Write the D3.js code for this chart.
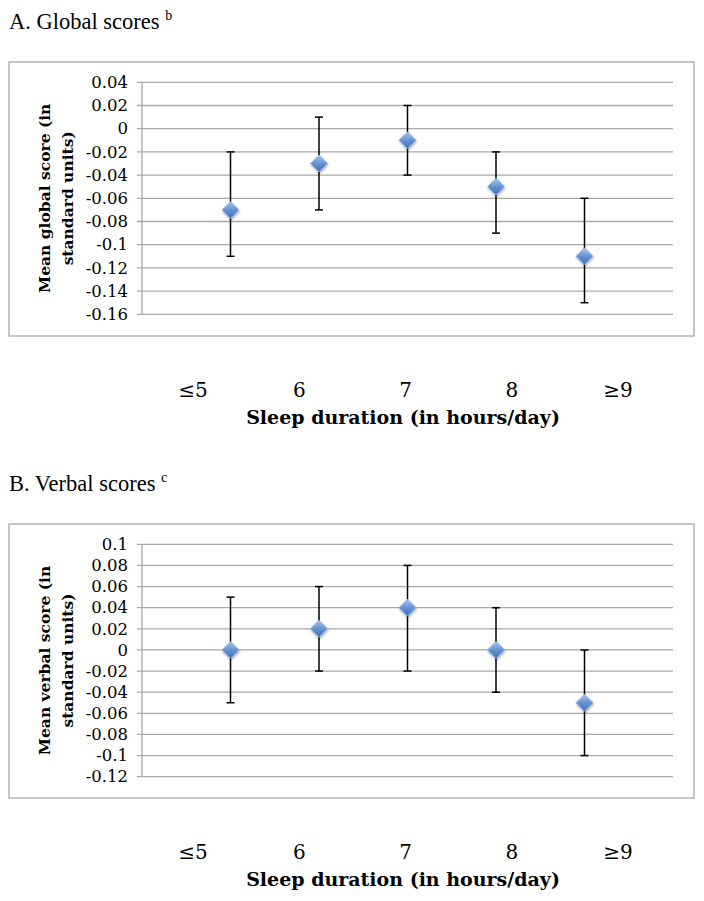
<!DOCTYPE html>
<html>
<head>
<meta charset="utf-8">
<script src="https://cdn.jsdelivr.net/npm/d3@7"></script>
<style>
  body { margin: 0; background: #fff; }
  svg { display: block; }
</style>
</head>
<body>
<svg id="chart" width="704" height="901"></svg>
<script>
// sleep duration categories
const categories = ['≤5', '6', '7', '8', '≥9'];

// A. global scores: mean and 95% CI
const globalMean = [-0.07, -0.03, -0.01, -0.05, -0.11];
const globalLow  = [-0.11, -0.07, -0.04, -0.09, -0.15];
const globalHigh = [-0.02, 0.01, 0.02, -0.02, -0.06];
const globalTicks = [0.04, 0.02, 0, -0.02, -0.04, -0.06, -0.08, -0.1, -0.12, -0.14, -0.16];

// B. verbal scores: mean and 95% CI
const verbalMean = [0, 0.02, 0.04, 0, -0.05];
const verbalLow  = [-0.05, -0.02, -0.02, -0.04, -0.1];
const verbalHigh = [0.05, 0.06, 0.08, 0.04, 0];
const verbalTicks = [0.1, 0.08, 0.06, 0.04, 0.02, 0, -0.02, -0.04, -0.06, -0.08, -0.1, -0.12];

const svg = d3.select('#chart');

// shared gradient + shadow for the diamond markers
const defs = svg.append('defs');
const grad = defs.append('linearGradient')
  .attr('id', 'diamondFill')
  .attr('x1', 0).attr('y1', 0).attr('x2', 0).attr('y2', 1);
grad.append('stop').attr('offset', '0%').attr('stop-color', '#a9c6ee');
grad.append('stop').attr('offset', '55%').attr('stop-color', '#5f8fd2');
grad.append('stop').attr('offset', '100%').attr('stop-color', '#3f70b8');
defs.append('filter')
  .attr('id', 'shadow')
  .attr('x', '-50%').attr('y', '-50%').attr('width', '200%').attr('height', '200%')
  .append('feDropShadow')
  .attr('dx', 0.5).attr('dy', 1.5)
  .attr('stdDeviation', 1.3)
  .attr('flood-color', '#000')
  .attr('flood-opacity', 0.35);

const fmt = v => String(+v.toFixed(2));

function drawPanel(opt) {
  const boxLeft = 9, boxRight = 694;
  const plotLeft = 142, plotRight = 673;

  // panel title
  const t = svg.append('text')
    .attr('x', 9)
    .attr('y', opt.boxTop - 33)
    .style('font-family', '"Liberation Serif", serif')
    .style('font-size', '22.5px')
    .attr('fill', '#000');
  t.append('tspan').text(opt.title + ' ');
  t.append('tspan')
    .attr('dy', -9)
    .style('font-size', '14px')
    .text(opt.sup);

  // outer chart border
  svg.append('rect')
    .attr('x', boxLeft)
    .attr('y', opt.boxTop)
    .attr('width', boxRight - boxLeft)
    .attr('height', opt.boxBottom - opt.boxTop)
    .attr('fill', '#fff')
    .attr('stroke', '#b4b4b4')
    .attr('stroke-width', 1.5);

  const x = d3.scalePoint()
    .domain(categories)
    .range([plotLeft, plotRight])
    .padding(1);

  const y = d3.scaleLinear()
    .domain(d3.extent(opt.ticks))
    .range([opt.plotBottom, opt.plotTop]);

  const g = svg.append('g');

  // horizontal gridlines + little ticks to the left of the axis
  g.selectAll('line.grid')
    .data(opt.ticks)
    .enter()
    .append('line')
    .attr('class', 'grid')
    .attr('x1', plotLeft - 5)
    .attr('x2', plotRight)
    .attr('y1', d => y(d))
    .attr('y2', d => y(d))
    .attr('stroke', '#a8a8a8')
    .attr('stroke-width', 1.3);

  // vertical axis line
  g.append('line')
    .attr('x1', plotLeft).attr('x2', plotLeft)
    .attr('y1', y(opt.ticks[0])).attr('y2', y(opt.ticks[opt.ticks.length - 1]))
    .attr('stroke', '#a8a8a8')
    .attr('stroke-width', 1.3);

  // y tick labels
  g.selectAll('text.ytick')
    .data(opt.ticks)
    .enter()
    .append('text')
    .attr('class', 'ytick')
    .attr('x', plotLeft - 14)
    .attr('y', d => y(d))
    .attr('dy', '0.35em')
    .attr('text-anchor', 'end')
    .style('font-family', '"DejaVu Serif", serif')
    .style('font-size', '16.5px')
    .attr('fill', '#000')
    .text(fmt);

  // y axis title, two lines, rotated
  const midY = (opt.plotTop + opt.plotBottom) / 2;
  opt.yTitle.forEach((line, i) => {
    svg.append('text')
      .attr('transform', `translate(${[45, 68][i] + 5},${midY}) rotate(-90)`)
      .attr('text-anchor', 'middle')
      .style('font-family', '"DejaVu Serif", serif')
      .style('font-weight', 'bold')
      .style('font-size', '15.5px')
      .attr('fill', '#000')
      .text(line);
  });

  const rows = categories.map((c, i) => ({
    cat: c, mean: opt.mean[i], low: opt.low[i], high: opt.high[i]
  }));

  // error bars
  const err = g.selectAll('g.err')
    .data(rows)
    .enter()
    .append('g')
    .attr('class', 'err')
    .attr('stroke', '#000')
    .attr('stroke-width', 1.5);
  err.append('line')
    .attr('x1', d => x(d.cat)).attr('x2', d => x(d.cat))
    .attr('y1', d => y(d.low)).attr('y2', d => y(d.high));
  err.append('line')
    .attr('x1', d => x(d.cat) - 4).attr('x2', d => x(d.cat) + 4)
    .attr('y1', d => y(d.low)).attr('y2', d => y(d.low));
  err.append('line')
    .attr('x1', d => x(d.cat) - 4).attr('x2', d => x(d.cat) + 4)
    .attr('y1', d => y(d.high)).attr('y2', d => y(d.high));

  // diamond markers
  const r = 8.5;
  g.selectAll('path.pt')
    .data(rows)
    .enter()
    .append('path')
    .attr('class', 'pt')
    .attr('d', `M0,${-r}L${r},0L0,${r}L${-r},0Z`)
    .attr('transform', d => `translate(${x(d.cat)},${y(d.mean)})`)
    .attr('fill', 'url(#diamondFill)')
    .attr('stroke', '#8fb2e3')
    .attr('stroke-width', 0.8)
    .attr('filter', 'url(#shadow)');

  // category labels sit well below the chart box, with their own spacing
  const xl = d3.scalePoint()
    .domain(categories)
    .range([193, 618]);

  svg.selectAll(null)
    .data(categories)
    .enter()
    .append('text')
    .attr('x', d => xl(d))
    .attr('y', opt.boxBottom + 61)
    .attr('text-anchor', 'middle')
    .style('font-family', '"DejaVu Serif", serif')
    .style('font-size', '20px')
    .attr('fill', '#000')
    .text(d => d);

  svg.append('text')
    .attr('x', 403)
    .attr('y', opt.boxBottom + 88)
    .attr('text-anchor', 'middle')
    .style('font-family', '"DejaVu Serif", serif')
    .style('font-weight', 'bold')
    .style('font-size', '19px')
    .attr('fill', '#000')
    .text('Sleep duration (in hours/day)');
}

drawPanel({
  title: 'A. Global scores', sup: 'b',
  boxTop: 62, boxBottom: 336, plotTop: 82.3, plotBottom: 314.3,
  ticks: globalTicks, mean: globalMean, low: globalLow, high: globalHigh,
  yTitle: ['Mean global score (in', 'standard units)']
});

drawPanel({
  title: 'B. Verbal scores', sup: 'c',
  boxTop: 524, boxBottom: 798, plotTop: 544.3, plotBottom: 776.7,
  ticks: verbalTicks, mean: verbalMean, low: verbalLow, high: verbalHigh,
  yTitle: ['Mean verbal score (in', 'standard units)']
});
</script>
</body>
</html>
